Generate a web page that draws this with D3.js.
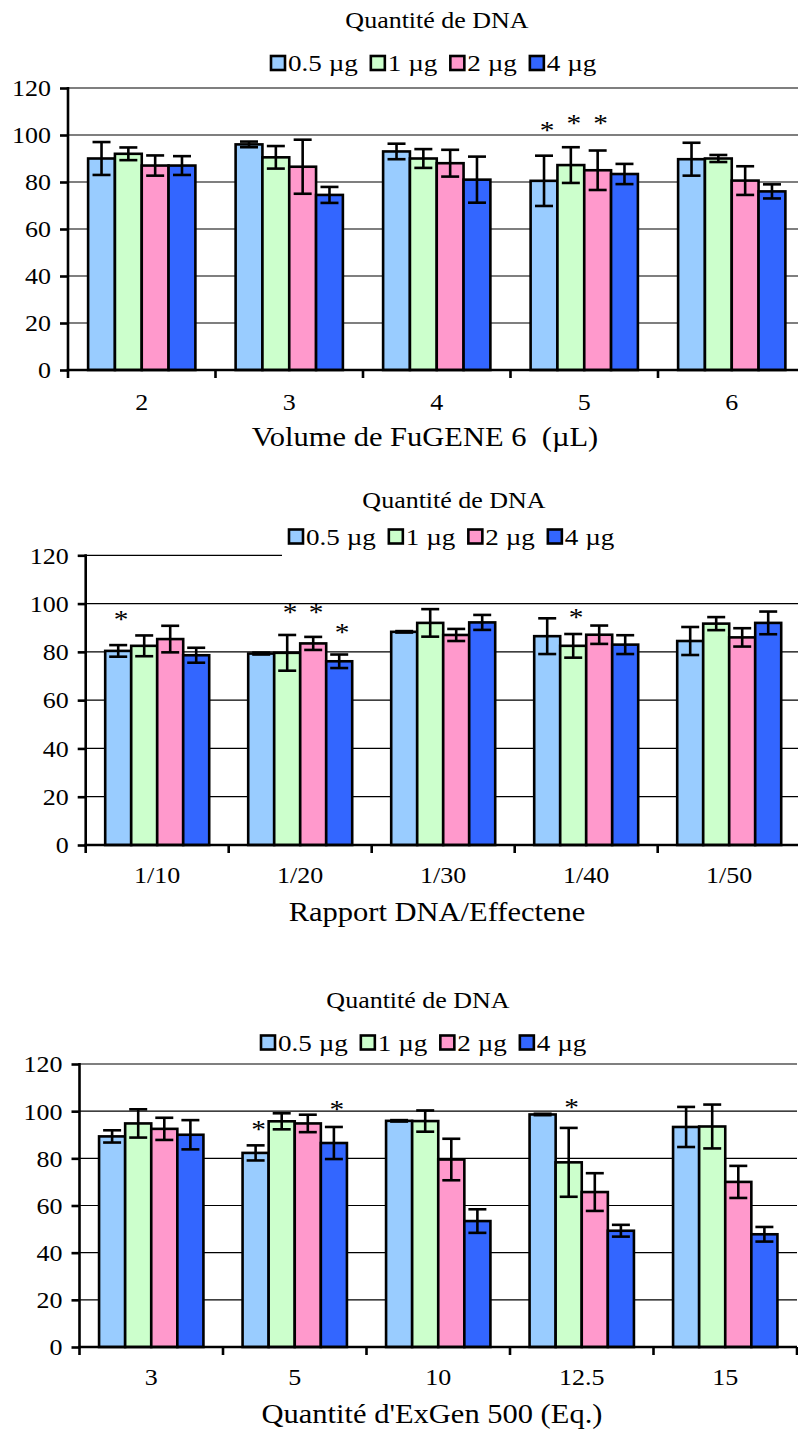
<!DOCTYPE html>
<html>
<head>
<meta charset="utf-8">
<script src="https://cdn.jsdelivr.net/npm/d3@7"></script>
<style>
  html, body { margin: 0; padding: 0; background: #fff; }
  svg { display: block; }
  text { font-family: "Liberation Serif", "Times New Roman", serif; fill: #000; white-space: pre; }
</style>
</head>
<body>
<svg id="fig" width="798" height="1432"></svg>
<script>
// DNA amounts (legend) and bar colours
const seriesNames = ["0.5 µg", "1 µg", "2 µg", "4 µg"];
const seriesColors = ["#99CCFF", "#CCFFCC", "#FF99CC", "#3366FF"];
const yTickValues = [0, 20, 40, 60, 80, 100, 120];

// Panel A: FuGENE 6 volume
const fugeneVolumes = ["2", "3", "4", "5", "6"];
const fugeneMeans = [
  [90, 92, 87, 87],
  [96, 90.5, 86.5, 74.5],
  [93, 90, 88, 81],
  [80.5, 87.2, 85, 83.4],
  [89.7, 90, 80.6, 76]
];
const fugeneErrors = [
  [7, 2.7, 4.3, 4],
  [1.2, 4.8, 11.5, 3.4],
  [3.3, 4, 5.7, 9.8],
  [10.7, 7.6, 8.4, 4.3],
  [7, 1.5, 6.1, 3]
];
const fugeneStars = [
  { cat: "5", s: 0, v: 104 },
  { cat: "5", s: 1, v: 107 },
  { cat: "5", s: 2, v: 107 }
];

// Panel B: DNA / Effectene ratio
const effecteneRatios = ["1/10", "1/20", "1/30", "1/40", "1/50"];
const effecteneMeans = [
  [80.4, 82.5, 85.3, 78.6],
  [79.3, 79.6, 83.5, 76.1],
  [88.3, 92, 87, 92.2],
  [86.5, 82.5, 87.1, 83],
  [84.5, 91.7, 86, 92]
];
const effecteneErrors = [
  [2.4, 4.3, 5.5, 3.1],
  [0.4, 7.4, 2.7, 2.8],
  [0.3, 5.7, 2.5, 3.1],
  [7.4, 4.9, 3.8, 3.9],
  [5.8, 2.7, 3.8, 4.7]
];
const effecteneStars = [
  { cat: "1/10", s: 0, v: 95.2 },
  { cat: "1/20", s: 1, v: 98 },
  { cat: "1/20", s: 2, v: 98 },
  { cat: "1/20", s: 3, v: 89.7 },
  { cat: "1/40", s: 1, v: 96.2 }
];

// Panel C: ExGen 500 equivalents
const exgenAmounts = ["3", "5", "10", "12.5", "15"];
const exgenMeans = [
  [89.3, 94.8, 92.5, 90],
  [82.3, 95.7, 94.8, 86.5],
  [95.9, 95.8, 79.5, 53.4],
  [98.6, 78.3, 65.7, 49.3],
  [93.3, 93.5, 70, 47.8]
];
const exgenErrors = [
  [2.6, 6, 4.7, 6.2],
  [3.2, 3.4, 3.7, 6.8],
  [0.3, 4.5, 8.8, 5],
  [0.3, 14.6, 8, 2.5],
  [8.5, 9.3, 6.8, 3.1]
];
const exgenStars = [
  { cat: "5", s: 0, v: 94 },
  { cat: "5", s: 3, v: 102.5 },
  { cat: "12.5", s: 1, v: 103.3 }
];

const legendTitle = "Quantité de DNA";
const SX = 1.13; // horizontal stretch of the lettering

const svg = d3.select("#fig");
svg.append("rect").attr("width", 798).attr("height", 1432).attr("fill", "#fff");

function label(g, x, y, str, size, anchor) {
  return g.append("text")
    .attr("transform", `translate(${x},${y}) scale(${SX},1)`)
    .attr("text-anchor", anchor || "start")
    .style("font-size", size + "px")
    .text(str);
}

function drawPanel(cfg) {
  const g = svg.append("g");
  const left = cfg.axisX, right = cfg.axisX + cfg.step * cfg.cats.length;

  const y = d3.scaleLinear().domain([0, 120]).range([cfg.y0, cfg.yTop]);
  const x0 = d3.scaleBand().domain(cfg.cats).range([left, right]).padding(0);
  const x1 = d3.scaleBand().domain(d3.range(seriesNames.length))
    .range([0, x0.bandwidth()]).paddingInner(0).paddingOuter(0.75);

  // horizontal gridlines
  g.append("g").selectAll("line")
    .data(yTickValues.filter(v => v > 0))
    .join("line")
    .attr("x1", left).attr("x2", right)
    .attr("y1", d => y(d)).attr("y2", d => y(d))
    .attr("stroke", "#000").attr("stroke-width", 1.2);

  // legend box (white background)
  if (cfg.legendBox) {
    g.append("rect")
      .attr("x", cfg.legendBox[0]).attr("y", cfg.legendBox[1])
      .attr("width", cfg.legendBox[2]).attr("height", cfg.legendBox[3])
      .attr("fill", "#fff");
  }

  // bars
  const rows = cfg.cats.map((c, i) => ({ cat: c, means: cfg.means[i], errs: cfg.errs[i] }));
  const groups = g.append("g").selectAll("g")
    .data(rows).join("g")
    .attr("transform", d => `translate(${x0(d.cat)},0)`);

  groups.selectAll("rect")
    .data(d => d.means.map((m, s) => ({ s, m })))
    .join("rect")
    .attr("x", d => x1(d.s))
    .attr("width", x1.bandwidth())
    .attr("y", d => y(d.m))
    .attr("height", d => y(0) - y(d.m))
    .attr("fill", d => seriesColors[d.s])
    .attr("stroke", "#000").attr("stroke-width", 2.6);

  // error bars
  const capHalf = 9;
  const eb = groups.selectAll("g.err")
    .data(d => d.means.map((m, s) => ({ s, m, e: d.errs[s] })))
    .join("g").attr("class", "err")
    .attr("stroke", "#000").attr("stroke-width", 2.6);
  eb.append("line")
    .attr("x1", d => x1(d.s) + x1.bandwidth() / 2).attr("x2", d => x1(d.s) + x1.bandwidth() / 2)
    .attr("y1", d => y(d.m + d.e)).attr("y2", d => y(d.m - d.e));
  eb.append("line")
    .attr("x1", d => x1(d.s) + x1.bandwidth() / 2 - capHalf).attr("x2", d => x1(d.s) + x1.bandwidth() / 2 + capHalf)
    .attr("y1", d => y(d.m + d.e)).attr("y2", d => y(d.m + d.e));
  eb.append("line")
    .attr("x1", d => x1(d.s) + x1.bandwidth() / 2 - capHalf).attr("x2", d => x1(d.s) + x1.bandwidth() / 2 + capHalf)
    .attr("y1", d => y(d.m - d.e)).attr("y2", d => y(d.m - d.e));

  // y axis
  const ya = g.append("g").attr("transform", `translate(${left},0)`)
    .call(d3.axisLeft(y).tickValues(yTickValues).tickSize(8).tickPadding(9).tickSizeOuter(0));
  ya.select(".domain").remove();
  ya.selectAll(".tick line").attr("stroke", "#000").attr("stroke-width", 2.6);
  ya.selectAll(".tick text").each(function () {
    const t = d3.select(this);
    const tx = +t.attr("x");
    t.attr("x", 0).attr("dy", "0.34em")
      .attr("transform", `translate(${tx},0) scale(${SX},1)`)
      .style("font-size", "23px").attr("font-family", null);
  });
  g.append("line").attr("x1", left).attr("x2", left)
    .attr("y1", y(120) - 1).attr("y2", y(0) + 1.3)
    .attr("stroke", "#000").attr("stroke-width", 2.6);

  // x axis: category labels at band centres, tick marks at band edges
  const xa = g.append("g").attr("transform", `translate(0,${cfg.y0})`)
    .call(d3.axisBottom(x0).tickSize(0).tickPadding(0).tickSizeOuter(0));
  xa.select(".domain").remove();
  xa.selectAll(".tick text").each(function () {
    const t = d3.select(this);
    t.attr("y", null).attr("dy", null)
      .attr("transform", `translate(0,${cfg.tickBaseline - cfg.y0}) scale(${SX},1)`)
      .style("font-size", "23px").attr("font-family", null);
  });
  const edges = cfg.cats.map(c => x0(c)).concat([right]);
  g.append("g").selectAll("line").data(edges).join("line")
    .attr("x1", d => d).attr("x2", d => d)
    .attr("y1", cfg.y0).attr("y2", cfg.y0 + 8)
    .attr("stroke", "#000").attr("stroke-width", 2.6);
  g.append("line").attr("x1", left - 1.3).attr("x2", right)
    .attr("y1", cfg.y0).attr("y2", cfg.y0)
    .attr("stroke", "#000").attr("stroke-width", 2.6);

  // significance marks
  g.append("g").selectAll("text").data(cfg.stars).join("text")
    .attr("transform", d => `translate(${x0(d.cat) + x1(d.s) + x1.bandwidth() / 2 + 3},${y(d.v) + 13}) scale(${SX},1)`)
    .attr("text-anchor", "middle")
    .style("font-size", "26px")
    .text("*");

  // axis title
  label(g, cfg.titleX, cfg.titleBaseline, cfg.axisTitle, 27, "middle");

  // legend
  label(g, cfg.legendTitleX, cfg.legendTitleBaseline, legendTitle, 23, "middle");
  let cursor = cfg.legendX;
  seriesNames.forEach((name, i) => {
    g.append("rect")
      .attr("x", cursor).attr("y", cfg.legendY - 7)
      .attr("width", 14).attr("height", 14)
      .attr("fill", seriesColors[i]).attr("stroke", "#000").attr("stroke-width", 2.6);
    const t = label(g, cursor + 17, cfg.legendY + 8, name, 24, "start");
    cursor += 17 + t.node().getComputedTextLength() * SX + 13;
  });
}

drawPanel({
  cats: fugeneVolumes, means: fugeneMeans, errs: fugeneErrors, stars: fugeneStars,
  axisX: 68, step: 147.5, y0: 370, yTop: 88,
  tickBaseline: 410, titleX: 425, titleBaseline: 446,
  axisTitle: "Volume de FuGENE 6  (µL)",
  legendTitleX: 437, legendTitleBaseline: 28, legendX: 271, legendY: 63
});

drawPanel({
  cats: effecteneRatios, means: effecteneMeans, errs: effecteneErrors, stars: effecteneStars,
  axisX: 85.7, step: 143, y0: 845, yTop: 555.3,
  tickBaseline: 883, titleX: 437, titleBaseline: 921,
  axisTitle: "Rapport DNA/Effectene",
  legendTitleX: 454, legendTitleBaseline: 508, legendX: 289, legendY: 536.5,
  legendBox: [282, 518, 530, 39]
});

drawPanel({
  cats: exgenAmounts, means: exgenMeans, errs: exgenErrors, stars: exgenStars,
  axisX: 79.5, step: 143.5, y0: 1347, yTop: 1064,
  tickBaseline: 1385, titleX: 432, titleBaseline: 1423,
  axisTitle: "Quantité d'ExGen 500 (Eq.)",
  legendTitleX: 418, legendTitleBaseline: 1008, legendX: 261, legendY: 1042.5
});
</script>
</body>
</html>
